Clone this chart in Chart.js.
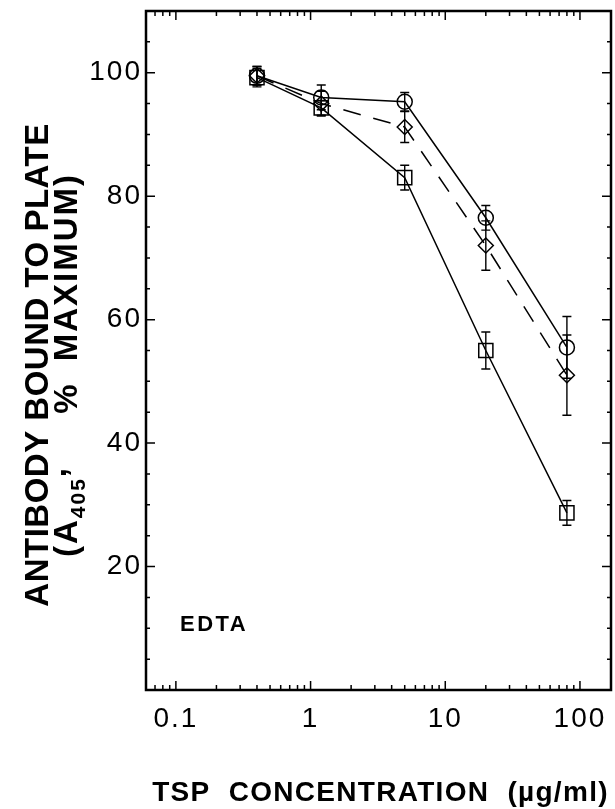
<!DOCTYPE html>
<html>
<head>
<meta charset="utf-8">
<script src="https://cdn.jsdelivr.net/npm/chart.js@4/dist/chart.umd.min.js"></script>
<style>
  html, body { margin: 0; padding: 0; background: #fff; }
  #wrap { width: 615px; height: 809px; }
</style>
</head>
<body>
<div id="wrap"><canvas id="chart" width="615" height="809"></canvas></div>
<script>
// values
var concentrations = [0.4, 1.2, 5, 20, 80];

var circleValues = [99.5, 96, 95.3, 76.5, 55.5];
var circleErrors = [1.5, 2, 1.5, 2, 5];

var diamondValues = [99.5, 95, 91.2, 72, 51];
var diamondErrors = [1.5, 2, 2.5, 4, 6.5];

var squareValues = [99.2, 94.3, 83, 55, 28.7];
var squareErrors = [1.5, 1.2, 2, 3, 2];

var xTickLabels = [0.1, 1, 10, 100];
var yTickLabels = [20, 40, 60, 80, 100];

var yTitleLine1 = 'ANTIBODY BOUND TO PLATE';
var yTitleLine2 = ['(A', '405', ',', '%', 'MAXIMUM)'];
var xTitle = 'TSP  CONCENTRATION  (\u00b5g/ml)';
var panelLabel = 'EDTA';

function points(values) {
  return concentrations.map(function (c, i) { return {x: c, y: values[i]}; });
}

// error bars, drawn through the scales
var errorBars = {
  id: 'errorBars',
  afterDatasetsDraw: function (chart) {
    var ctx = chart.ctx, x = chart.scales.x, y = chart.scales.y;
    ctx.save();
    ctx.strokeStyle = '#000';
    ctx.lineWidth = 1.4;
    chart.data.datasets.forEach(function (ds) {
      ds.data.forEach(function (p, i) {
        var e = ds.errors[i];
        var px = x.getPixelForValue(p.x);
        var top = y.getPixelForValue(p.y + e), bot = y.getPixelForValue(p.y - e);
        ctx.beginPath();
        ctx.moveTo(px, top); ctx.lineTo(px, bot);
        ctx.moveTo(px - 4.5, top); ctx.lineTo(px + 4.5, top);
        ctx.moveTo(px - 4.5, bot); ctx.lineTo(px + 4.5, bot);
        ctx.stroke();
      });
    });
    ctx.restore();
  }
};

// wider spacing for the tick numbers
var spacing = {
  id: 'spacing',
  beforeDraw: function (chart) { chart.ctx.letterSpacing = '2px'; },
  afterDatasetsDraw: function (chart) { chart.ctx.letterSpacing = '0px'; }
};

// box frame with inward ticks on all four sides, and the titles
var frame = {
  id: 'frame',
  afterDraw: function (chart) {
    var ctx = chart.ctx, a = chart.chartArea, x = chart.scales.x, y = chart.scales.y;
    ctx.save();
    ctx.strokeStyle = '#000';
    ctx.lineWidth = 2.5;
    ctx.strokeRect(a.left, a.top, a.right - a.left, a.bottom - a.top);

    ctx.lineWidth = 1.5;
    ctx.beginPath();
    for (var v = 5; v < y.max; v += 5) {
      var py = y.getPixelForValue(v);
      var len = (v % 20 === 0) ? 9 : 4;
      ctx.moveTo(a.left, py); ctx.lineTo(a.left + len, py);
      ctx.moveTo(a.right, py); ctx.lineTo(a.right - len, py);
    }
    [0.01, 0.1, 1, 10, 100].forEach(function (dec) {
      for (var m = 1; m <= 9; m++) {
        var val = dec * m;
        if (val < x.min || val > x.max) continue;
        var px = x.getPixelForValue(val);
        var l = (m === 1) ? 9 : 5;
        ctx.moveTo(px, a.bottom); ctx.lineTo(px, a.bottom - l);
        ctx.moveTo(px, a.top); ctx.lineTo(px, a.top + l);
      }
    });
    ctx.stroke();

    ctx.fillStyle = '#000';
    ctx.textBaseline = 'alphabetic';

    // x title
    ctx.font = 'bold 28px "Liberation Sans"';
    ctx.letterSpacing = '1.3px';
    ctx.textAlign = 'center';
    ctx.fillText(xTitle, (a.left + a.right) / 2 + 2, 801);

    // panel label
    ctx.font = 'bold 22px "Liberation Sans"';
    ctx.letterSpacing = '2.5px';
    ctx.textAlign = 'left';
    ctx.fillText(panelLabel, a.left + 34, 631);

    // y title, two rotated lines (local x runs up the page)
    ctx.save();
    ctx.translate(0, 365);
    ctx.rotate(-Math.PI / 2);
    ctx.font = 'bold 33px "Liberation Sans"';
    ctx.letterSpacing = '0.5px';
    ctx.textAlign = 'center';
    ctx.fillText(yTitleLine1, 0, 48);

    var big = 'bold 33px "Liberation Sans"', small = 'bold 21px "Liberation Sans"';
    ctx.letterSpacing = '2px';
    ctx.textAlign = 'left';
    // left part from y=557 up, right part ending at y=173
    var cx = 365 - 557;
    ctx.font = big; ctx.fillText(yTitleLine2[0], cx, 77); cx += ctx.measureText(yTitleLine2[0]).width;
    ctx.font = small; ctx.fillText(yTitleLine2[1], cx, 85); cx += ctx.measureText(yTitleLine2[1]).width;
    ctx.font = big; ctx.fillText(yTitleLine2[2], cx, 66);
    var pw = ctx.measureText(yTitleLine2[3]).width;
    ctx.fillText(yTitleLine2[3], (365 - 398) - pw / 2, 77);
    var mw = ctx.measureText(yTitleLine2[4]).width;
    ctx.fillText(yTitleLine2[4], (365 - 173) - mw, 77);
    ctx.restore();
    ctx.restore();
  }
};

var tickFont = {family: 'Liberation Sans', size: 28};

new Chart(document.getElementById('chart'), {
  type: 'line',
  data: {
    datasets: [{
      data: points(circleValues),
      errors: circleErrors,
      pointStyle: 'circle',
      pointRadius: 7.5,
      borderDash: []
    }, {
      data: points(diamondValues),
      errors: diamondErrors,
      pointStyle: 'rectRot',
      pointRadius: 7.5,
      borderDash: [18, 13]
    }, {
      data: points(squareValues),
      errors: squareErrors,
      pointStyle: 'rect',
      pointRadius: 10,
      borderDash: []
    }].map(function (ds) {
      ds.borderColor = '#000';
      ds.borderWidth = 1.5;
      ds.pointBorderColor = '#000';
      ds.pointBackgroundColor = 'rgba(0,0,0,0)';
      ds.pointBorderWidth = 1.5;
      ds.fill = false;
      ds.tension = 0;
      return ds;
    })
  },
  options: {
    responsive: false,
    animation: false,
    layout: {autoPadding: false, padding: {top: 11, right: 4, left: 0, bottom: 0}},
    plugins: {legend: {display: false}, tooltip: {enabled: false}},
    scales: {
      x: {
        type: 'logarithmic',
        min: 0.06,
        max: 170,
        grid: {display: false, drawTicks: false},
        border: {display: false},
        afterFit: function (s) {
          s.height = 119;
          s.paddingLeft = 0; s.paddingRight = 0;
        },
        afterBuildTicks: function (s) {
          s.ticks = xTickLabels.map(function (v) { return {value: v}; });
        },
        ticks: {
          color: '#000',
          font: tickFont,
          padding: 12,
          autoSkip: false,
          maxRotation: 0,
          callback: function (v) { return String(v); }
        }
      },
      y: {
        min: 0,
        max: 110,
        grid: {display: false, drawTicks: false},
        border: {display: false},
        afterFit: function (s) {
          s.width = 146;
          s.paddingTop = 0; s.paddingBottom = 0;
        },
        afterBuildTicks: function (s) {
          s.ticks = yTickLabels.map(function (v) { return {value: v}; });
        },
        ticks: {
          color: '#000',
          font: tickFont,
          padding: 4,
          callback: function (v) { return String(v); }
        }
      }
    }
  },
  plugins: [spacing, errorBars, frame]
});
</script>
</body>
</html>
